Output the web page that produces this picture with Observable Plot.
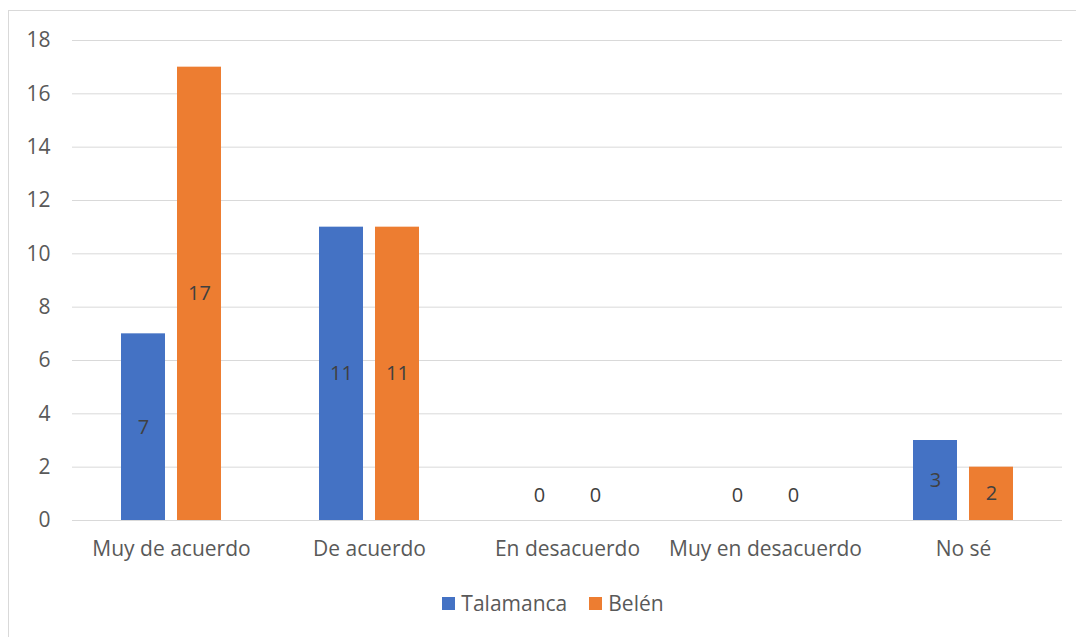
<!DOCTYPE html>
<html>
<head>
<meta charset="utf-8">
<script src="https://cdn.jsdelivr.net/npm/d3@7"></script>
<script src="https://cdn.jsdelivr.net/npm/@observablehq/plot@0.6"></script>
<style>
  html, body { margin: 0; padding: 0; background: #fff; overflow: hidden; }
  #wrap { position: relative; width: 1076px; height: 637px; overflow: hidden; font-family: "Open Sans", sans-serif; }
  #frame { position: absolute; left: 8px; top: 10px; width: 1200px; height: 800px; border: 1px solid #d9d9d9; box-sizing: border-box; }
  .layer { position: absolute; left: 0; top: 0; }
  #legend { position: absolute; left: 0; top: 589px; width: 1076px; display: flex; justify-content: center; align-items: center; gap: 22px; font-size: 21px; color: #595959; padding-left: 30px; box-sizing: border-box; }
  .item { display: flex; align-items: center; gap: 6px; }
  .sw { width: 13px; height: 13px; display: inline-block; }
</style>
</head>
<body>
<div id="wrap">
  <div id="frame"></div>
  <div id="grid" class="layer"></div>
  <div id="chart" class="layer"></div>
  <div id="legend"></div>
</div>
<script>
const categories = ["Muy de acuerdo", "De acuerdo", "En desacuerdo", "Muy en desacuerdo", "No sé"];
const seriesNames = ["Talamanca", "Belén"];
const talamanca = [7, 11, 0, 0, 3];
const belen = [17, 11, 0, 0, 2];
const colors = ["#4472C4", "#ED7D31"];
const yTicks = [0, 2, 4, 6, 8, 10, 12, 14, 16, 18];

const data = [];
categories.forEach((c, i) => {
  data.push({category: c, series: seriesNames[0], value: talamanca[i]});
  data.push({category: c, series: seriesNames[1], value: belen[i]});
});

const common = {
  width: 1076,
  height: 580,
  marginTop: 40,
  marginBottom: 60,
  marginLeft: 72,
  marginRight: 14,
  style: {fontSize: "21px", fontFamily: "Open Sans, sans-serif", color: "#595959", background: "transparent"}
};

const grid = Plot.plot({
  ...common,
  x: {axis: null},
  y: {domain: [0, 18], ticks: yTicks, tickSize: 0, tickPadding: 22, label: null, tickFormat: d3.format("d")},
  marks: [
    Plot.ruleY(yTicks, {stroke: "#d9d9d9", strokeWidth: 1})
  ]
});
document.getElementById("grid").appendChild(grid);

const chart = Plot.plot({
  ...common,
  fx: {domain: categories, paddingInner: 0.4848, paddingOuter: 0.2424, label: null, tickSize: 0, tickPadding: 21, axis: "bottom"},
  x: {domain: seriesNames, paddingInner: 0.2105, paddingOuter: 0, axis: null},
  y: {domain: [0, 18], axis: null},
  color: {domain: seriesNames, range: colors},
  marks: [
    Plot.barY(data, {fx: "category", x: "series", y: "value", fill: "series"}),
    Plot.text(data.filter(d => d.value !== 0), {fx: "category", x: "series", y: d => d.value / 2, text: d => String(d.value), fill: "#404040", fontSize: 20}),
    Plot.text(data.filter(d => d.value === 0), {fx: "category", x: "series", y: "value", text: d => String(d.value), fill: "#404040", fontSize: 20, dy: -25})
  ]
});
document.getElementById("chart").appendChild(chart);

const legend = document.getElementById("legend");
seriesNames.forEach((s, i) => {
  const item = document.createElement("div");
  item.className = "item";
  const sw = document.createElement("span");
  sw.className = "sw";
  sw.style.background = colors[i];
  const t = document.createElement("span");
  t.textContent = s;
  item.appendChild(sw);
  item.appendChild(t);
  legend.appendChild(item);
});
</script>
</body>
</html>
